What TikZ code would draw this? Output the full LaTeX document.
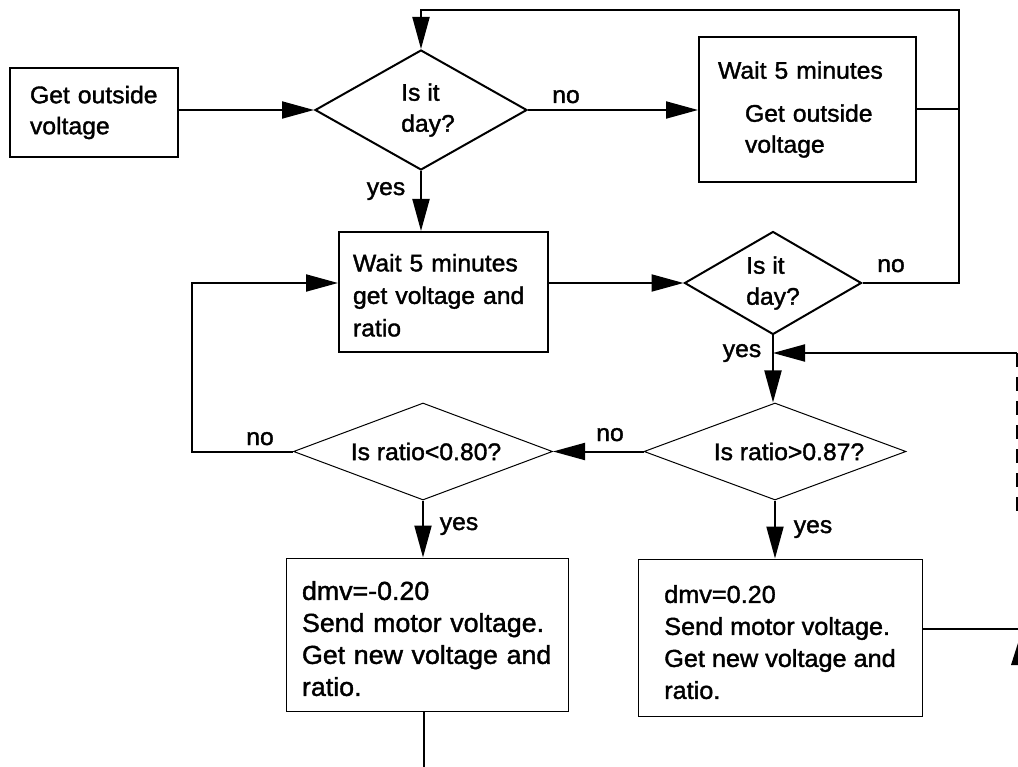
\documentclass[tikz,border=0pt]{standalone}
\usepackage{fontspec}
\setmainfont{Liberation Sans}[FakeStretch=1.03,FakeBold=1.5]
\usetikzlibrary{shapes.geometric,arrows.meta}
\begin{document}
\begin{tikzpicture}[x=1pt,y=-1pt,
  every node/.style={font=\fontsize{24}{31}\selectfont},
  pbox/.style={draw, line width=2pt, rectangle, inner sep=0pt, align=left},
  tbox/.style={draw, line width=1pt, rectangle, inner sep=0pt, align=left},
  pdec/.style={draw, line width=2pt, diamond, inner sep=0pt, align=left},
  tdec/.style={draw, line width=1pt, diamond, inner sep=0pt, align=center, shape aspect=2.7},
  conn/.style={line width=2pt},
  arr/.style={conn, -{Triangle[length=32pt,width=17pt]}},
  lbl/.style={anchor=base, inner sep=0pt}
]
\fill[white] (0,0) rectangle (1018,767);
\useasboundingbox (0,0) rectangle (1018,767);

% boxes
\node[pbox, minimum width=168, minimum height=89, text width=128] (A) at (94,112.5) {Get outside\\voltage};
\node[pbox, minimum width=217, minimum height=145, text width=179] (B) at (807.5,109.5) {Wait 5 minutes\\[12pt]\hspace*{27pt}Get outside\\\hspace*{27pt}voltage};
\node[pbox, minimum width=209, minimum height=120, text width=181, font=\fontsize{24}{32.5}\selectfont] (C) at (443.5,292) {\rule{0pt}{24pt}Wait 5 minutes\\get voltage and\\ratio};
\node[tbox, minimum width=282, minimum height=153, text width=250, font=\fontsize{26}{32}\selectfont] (E1) at (427,634.5) {\rule{0pt}{27pt}dmv=-0.20\\Send motor voltage.\\Get new voltage and\\ratio.};
\node[tbox, minimum width=284, minimum height=157, font=\fontsize{24.5}{32}\selectfont] (E2) at (780,637.5) {\rule{0pt}{27pt}dmv=0.20\\Send motor voltage.\\Get new voltage and\\ratio.};

% decisions
\node[pdec, minimum width=212, minimum height=120, shape aspect=1.77] (D1) at (421,110) {\hspace*{14pt}Is it\\\hspace*{14pt}day?};
\node[pdec, minimum width=177, minimum height=103, shape aspect=1.72] (D2) at (773,283) {Is it\\day?};
\node[tdec, minimum width=262, minimum height=97] (D3) at (775,451.5) {\hspace*{28pt}Is ratio>0.87?};
\node[tdec, minimum width=259, minimum height=97] (D4) at (423,451.5) {\hspace*{6pt}Is ratio<0.80?};

% free ends and corners
\coordinate (tr) at (959,10);
\coordinate (lp) at (192,283);
\coordinate (rin) at (1017,353);
\coordinate (rbot) at (1017,520);
\coordinate (e1out) at (424,767);
\coordinate (e2out) at (1018,629);

% connectors
\draw[arr] (A.east |- D1.west) -- (D1.west);
\draw[arr] (D1.east) -- (D1.east -| B.west);
\draw[conn] (B.east) -- (B.east -| tr);
\draw[arr] (D2.east) -- (D2.east -| tr) -- (tr) -- (tr -| D1.north) -- (D1.north);
\draw[arr] (D1.south) -- (D1.south |- C.north);
\draw[arr] (C.east |- D2.west) -- (D2.west);
\draw[arr] (D2.south) -- (D2.south |- D3.north);
\draw[arr] (rin) -- (rin -| D2.south);
\draw[conn, dash pattern=on 14pt off 10pt] (rin) -- (rbot);
\draw[arr] (D3.west) -- (D4.east);
\draw[arr] (D4.west) -- (D4.west -| lp) -- (lp) -- (lp -| C.west);
\draw[arr] (D4.south) -- (D4.south |- E1.north);
\draw[arr] (D3.south) -- (D3.south |- E2.north);
\draw[conn] (E1.south -| e1out) -- (e1out);
\draw[conn] (E2.east |- e2out) -- (e2out);
\fill (1011,665) -- (1018,643) -- (1018,665) -- cycle;

% labels
\node[lbl] (no1) at (566,103) {no};
\node[lbl] (yes1) at (386,195) {yes};
\node[lbl] (no2) at (891,272) {no};
\node[lbl] (yes2) at (742,357) {yes};
\node[lbl] (no3) at (610,441) {no};
\node[lbl] (no4) at (260,445) {no};
\node[lbl] (yes4) at (459,530) {yes};
\node[lbl] (yes3) at (813,533) {yes};
\end{tikzpicture}
\end{document}
